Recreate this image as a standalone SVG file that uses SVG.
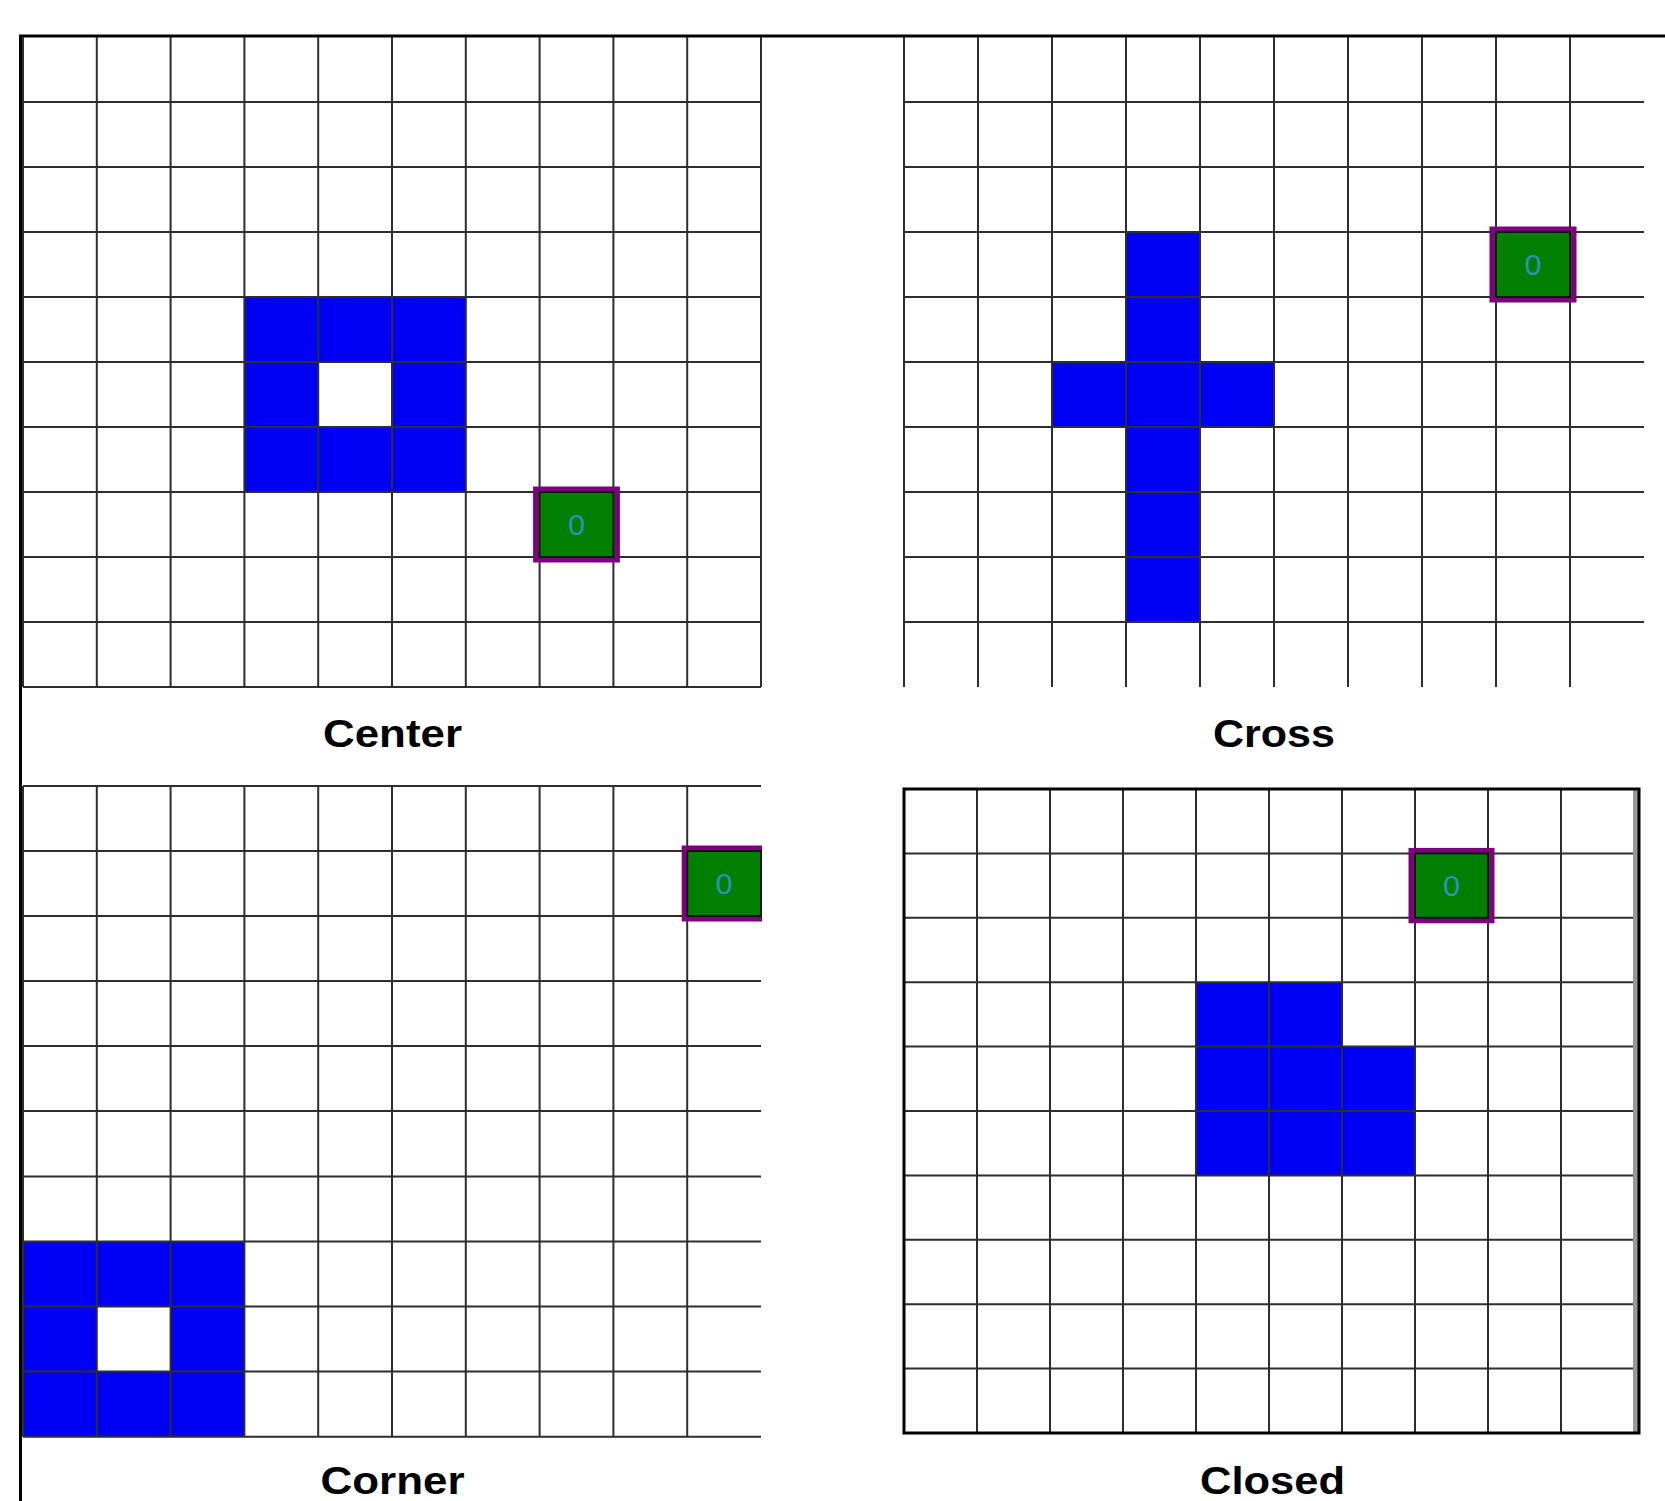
<svg xmlns="http://www.w3.org/2000/svg" width="1665" height="1501" viewBox="0 0 1665 1501">
<style>
.grid{fill:none;stroke:#2e2e2e;stroke-width:2}
.blue{fill:#0000f5}
.hole{fill:#fff}
.mark{fill:#007f00;stroke:#7f007f;stroke-width:5}
.cell{fill:none;stroke:#111;stroke-width:2}
.num{font-family:"Liberation Sans",Arial,sans-serif;font-size:29px;fill:#2b93c0;text-anchor:middle}
.lbl{font-family:"Liberation Sans",Arial,sans-serif;font-size:38px;font-weight:bold;fill:#000;text-anchor:middle}
.frame{fill:none;stroke:#000;stroke-width:3}
</style>
<defs>
<clipPath id="clip3"><rect x="0" y="760" width="762" height="700"/></clipPath>
</defs>
<rect width="1665" height="1501" fill="#fff"/>
<path class="frame" d="M20.5 1501V36H1665"/>

<g id="panel-center">
<path class="blue" d="M244.4 297H465.8V492H244.4Z"/>
<rect class="hole" x="318.2" y="362" width="73.8" height="65"/>
<path class="grid" d="M23 37V687M96.8 37V687M170.6 37V687M244.4 37V687M318.2 37V687M392 37V687M465.8 37V687M539.6 37V687M613.4 37V687M687.2 37V687M761 37V687
M23 102H761M23 167H761M23 232H761M23 297H761M23 362H761M23 427H761M23 492H761M23 557H761M23 622H761M23 687H761"/>
<g id="marker-center">
<rect class="mark" x="535.6" y="489" width="81.8" height="71"/>
<rect class="cell" x="539.6" y="492" width="73.8" height="65"/>
<text class="num" x="576.5" y="535" textLength="17" lengthAdjust="spacingAndGlyphs">0</text>
</g>
<text class="lbl" x="392.5" y="747" textLength="139" lengthAdjust="spacingAndGlyphs">Center</text>
</g>

<g id="panel-cross">
<path class="blue" d="M1126 232H1200V362H1274V427H1200V622H1126V427H1052V362H1126Z"/>
<path class="grid" d="M904 37V687M978 37V687M1052 37V687M1126 37V687M1200 37V687M1274 37V687M1348 37V687M1422 37V687M1496 37V687M1570 37V687
M904 102H1644M904 167H1644M904 232H1644M904 297H1644M904 362H1644M904 427H1644M904 492H1644M904 557H1644M904 622H1644"/>
<g id="marker-cross">
<rect class="mark" x="1492" y="229" width="82" height="71"/>
<rect class="cell" x="1496" y="232" width="74" height="65"/>
<text class="num" x="1533" y="275" textLength="17" lengthAdjust="spacingAndGlyphs">0</text>
</g>
<text class="lbl" x="1274" y="747" textLength="122" lengthAdjust="spacingAndGlyphs">Cross</text>
</g>

<g id="panel-corner">
<path class="blue" d="M23 1241.5H244.4V1436.7H23Z"/>
<rect class="hole" x="96.8" y="1306.6" width="73.8" height="65"/>
<path class="grid" d="M23 786V1436.7M96.8 786V1436.7M170.6 786V1436.7M244.4 786V1436.7M318.2 786V1436.7M392 786V1436.7M465.8 786V1436.7M539.6 786V1436.7M613.4 786V1436.7M687.2 786V1436.7
M23 786H761M23 851H761M23 916H761M23 981H761M23 1046H761M23 1111H761M23 1176.4H761M23 1241.5H761M23 1306.6H761M23 1371.6H761M23 1436.7H761"/>
<g id="marker-corner" clip-path="url(#clip3)">
<rect class="mark" x="684.2" y="848" width="81.8" height="71"/>
<rect class="cell" x="687.2" y="851" width="73.8" height="65"/>
<text class="num" x="724" y="894" textLength="17" lengthAdjust="spacingAndGlyphs">0</text>
</g>
<text class="lbl" x="392.5" y="1494" textLength="144" lengthAdjust="spacingAndGlyphs">Corner</text>
</g>

<g id="panel-closed">
<path class="blue" d="M1196 982.2H1342V1046.6H1415V1175.4H1196Z"/>
<path class="grid" d="M977 789V1433M1050 789V1433M1123 789V1433M1196 789V1433M1269 789V1433M1342 789V1433M1415 789V1433M1488 789V1433M1561 789V1433
M904 853.4H1634M904 917.8H1634M904 982.2H1634M904 1046.6H1634M904 1111H1634M904 1175.4H1634M904 1239.8H1634M904 1304.2H1634M904 1368.6H1634"/>
<path fill="none" stroke="#999" stroke-width="5" d="M1635.5 789V1433"/>
<rect class="frame" x="904" y="789" width="735" height="644"/>
<g id="marker-closed">
<rect class="mark" x="1411" y="850.4" width="81" height="70.4"/>
<rect class="cell" x="1415" y="853.4" width="73" height="64.4"/>
<text class="num" x="1451.5" y="896" textLength="17" lengthAdjust="spacingAndGlyphs">0</text>
</g>
<text class="lbl" x="1272.5" y="1494" textLength="145" lengthAdjust="spacingAndGlyphs">Closed</text>
</g>
</svg>
